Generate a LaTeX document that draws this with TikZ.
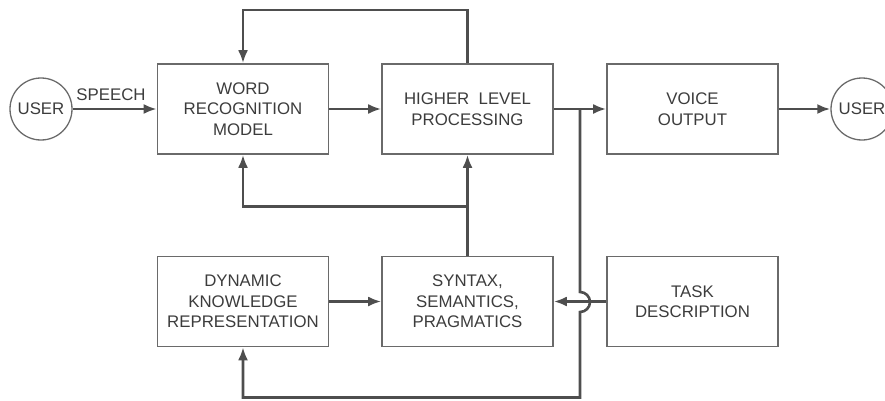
\documentclass[tikz,border=0pt]{standalone}
\usepackage{fontspec}
\setmainfont{Liberation Sans}
\usetikzlibrary{arrows.meta}
\definecolor{ln}{HTML}{4E4E4E}
\definecolor{bx}{HTML}{6A6A6A}
\definecolor{tx}{HTML}{3C3C3C}
\tikzset{
  blk/.style={draw=bx, line width=1.6pt, minimum width=171pt, minimum height=90pt, inner sep=0pt,
    align=center, text=tx, font=\fontsize{16.8}{20.5}\selectfont},
  usr/.style={draw=bx, line width=1.3pt, circle, minimum size=62pt, inner sep=0pt, text=tx,
    font=\fontsize{16.8}{20.5}\selectfont},
  con/.style={draw=ln, line width=2.6pt},
  arr/.style={con, -{Latex[length=13pt,width=10pt]}},
  lbl/.style={text=tx, font=\fontsize{16.8}{20.5}\selectfont, inner sep=0pt}
}
\begin{document}
\begin{tikzpicture}[x=1pt,y=1pt]
\useasboundingbox (0,0) rectangle (885,400);
\node[usr] (u1) at (41,291) {USER};
\node[blk] (wrm) at (243,291) {WORD\\RECOGNITION\\MODEL};
\node[blk] (hl) at (467.5,291) {HIGHER\ \ LEVEL\\PROCESSING};
\node[blk] (vo) at (692.5,291) {VOICE\\OUTPUT};
\node[usr] (u2) at (862,291) {USER};
\node[blk] (dyn) at (243,98.5) {DYNAMIC\\KNOWLEDGE\\REPRESENTATION};
\node[blk] (syn) at (467.5,98.5) {SYNTAX,\\SEMANTICS,\\PRAGMATICS};
\node[blk] (task) at (692.5,98.5) {TASK\\DESCRIPTION};
\node[lbl] (sp) at (111,305) {SPEECH};

\draw[arr] (u1) -- (wrm);
\draw[arr] (wrm) -- (hl);
\draw[arr] (hl) -- (vo);
\draw[arr] (vo) -- (u2);
\draw[arr] (dyn) -- (syn);
\draw[arr] (task) -- (syn);
\draw[arr] (hl.north) -- ++(0,53) -| (wrm.north);
\draw[arr] (syn.north) -- (hl.south);
\coordinate (mid) at ([yshift=49pt]syn.north);
\draw[arr] (mid) -| (wrm.south);
\coordinate (j) at (580,291);
\draw[arr] (j) -- (580,108) arc[start angle=90, end angle=-90, radius=10] -- (580,2.5) -| (dyn.south);
\end{tikzpicture}
\end{document}
